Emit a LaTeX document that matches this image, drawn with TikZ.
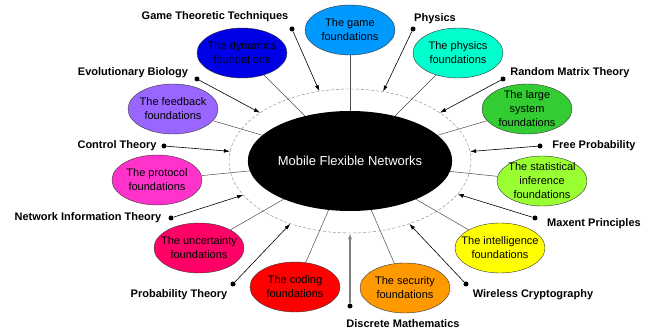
\documentclass[tikz,border=0pt]{standalone}
\usepackage{fontspec}
\setmainfont{Liberation Sans}
\usetikzlibrary{shapes.geometric,arrows.meta,positioning}
\definecolor{gamefill}{RGB}{0,153,255}
\definecolor{dynfill}{RGB}{0,0,230}
\definecolor{physfill}{RGB}{0,255,204}
\definecolor{feedfill}{RGB}{153,102,255}
\definecolor{largefill}{RGB}{51,204,51}
\definecolor{protfill}{RGB}{255,51,204}
\definecolor{statfill}{RGB}{153,255,51}
\definecolor{uncfill}{RGB}{255,0,102}
\definecolor{intfill}{RGB}{255,255,0}
\definecolor{codefill}{RGB}{255,0,0}
\definecolor{secfill}{RGB}{255,153,0}
\tikzset{hub/.style={ellipse,fill=black,text=white,inner sep=0pt,minimum width=190pt,minimum height=100pt,font=\fontsize{13}{15}\selectfont}}
\tikzset{ring/.style={ellipse,draw=gray,dash pattern=on 3pt off 2pt,inner sep=0pt,minimum width=242pt,minimum height=144pt}}
\tikzset{found/.style={ellipse,draw=black!80,inner sep=0pt,minimum width=90pt,minimum height=50pt}}
\tikzset{caption/.style={align=center,font=\fontsize{11}{14}\selectfont}}
\tikzset{topic/.style={inner sep=0pt,font=\bfseries\fontsize{11}{13}\selectfont}}
\tikzset{bullet/.style={circle,fill=black,inner sep=0pt,minimum size=5pt}}
\tikzset{link/.style={draw,black!70,line width=0.5pt}}
\tikzset{arrow/.style={draw,line width=0.6pt,-{Latex[length=6pt,width=4pt]}}}

\begin{document}
\begin{tikzpicture}[x=1pt,y=-1pt]
    \useasboundingbox (0,0) rectangle (654,336);

    \node[ring] (ring) at (350,161) {};
    \node[hub] (mfn) at (350,161) {Mobile Flexible Networks};

    \node[found,fill=gamefill,label={[caption]center:The game\\foundations}] (game) at (350,30) {};
    \node[found,fill=dynfill,label={[caption]center:The dynamics\\foundations}] (dyn) at (242,53) {};
    \node[found,fill=physfill,label={[caption]center:The physics\\foundations}] (phys) at (458,53) {};
    \node[found,fill=feedfill,label={[caption]center:The feedback\\foundations}] (feed) at (173,109) {};
    \node[found,fill=largefill,label={[caption]center:The large\\system\\foundations}] (large) at (527,109) {};
    \node[found,fill=protfill,label={[caption]center:The protocol\\foundations}] (prot) at (157,180) {};
    \node[found,fill=statfill,label={[caption]center:The statistical\\inference\\foundations}] (stat) at (542,181) {};
    \node[found,fill=uncfill,label={[caption]center:The uncertainty\\foundations}] (unc) at (199,248) {};
    \node[found,fill=intfill,label={[caption]center:The intelligence\\foundations}] (intl) at (500,248) {};
    \node[found,fill=codefill,label={[caption]center:The coding\\foundations}] (code) at (295,287) {};
    \node[found,fill=secfill,label={[caption]center:The security\\foundations}] (sec) at (405,288) {};

    \node[bullet] (bgame) at (292,29) {};
    \node[bullet] (bphys) at (413,29) {};
    \node[bullet] (bevo) at (197,79) {};
    \node[bullet] (brmt) at (503,79) {};
    \node[bullet] (bctrl) at (164,146) {};
    \node[bullet] (bfree) at (540,146) {};
    \node[bullet] (bnit) at (171,218) {};
    \node[bullet] (bmax) at (535,218) {};
    \node[bullet] (bprob) at (233,284) {};
    \node[bullet] (bwire) at (466,284) {};
    \node[bullet] (bdisc) at (350,306) {};

    \node[topic] (tgame) at (215,17) {Game Theoretic Techniques};
    \node[topic] (tphys) at (435,19) {Physics};
    \node[topic] (tevo) at (133,73) {Evolutionary Biology};
    \node[topic] (trmt) at (570,73) {Random Matrix Theory};
    \node[topic] (tctrl) at (117,146) {Control Theory};
    \node[topic] (tfree) at (594,146) {Free Probability};
    \node[topic] (tnit) at (88,218) {Network Information Theory};
    \node[topic] (tmax) at (594,224) {Maxent Principles};
    \node[topic] (tprob) at (179,295) {Probability Theory};
    \node[topic] (twire) at (533,295) {Wireless Cryptography};
    \node[topic] (tdisc) at (403,324) {Discrete Mathematics};

        \path[link] (mfn) -- (game);
        \path[link] (mfn) -- (dyn);
        \path[link] (mfn) -- (phys);
        \path[link] (mfn) -- (feed);
        \path[link] (mfn) -- (large);
        \path[link] (mfn) -- (prot);
        \path[link] (mfn) -- (stat);
        \path[link] (mfn) -- (unc);
        \path[link] (mfn) -- (intl);
        \path[link] (mfn) -- (code);
        \path[link] (mfn) -- (sec);

        \path[arrow] (bgame) -- (ring);
        \path[arrow] (bphys) -- (ring);
        \path[arrow] (bevo) -- (ring);
        \path[arrow] (brmt) -- (ring);
        \path[arrow] (bctrl) -- (ring);
        \path[arrow] (bfree) -- (ring);
        \path[arrow] (bnit) -- (ring);
        \path[arrow] (bmax) -- (ring);
        \path[arrow] (bprob) -- (ring);
        \path[arrow] (bwire) -- (ring);
        \path[arrow,gray,line width=1.2pt] (bdisc) -- (ring);
      \end{tikzpicture}
\end{document}
